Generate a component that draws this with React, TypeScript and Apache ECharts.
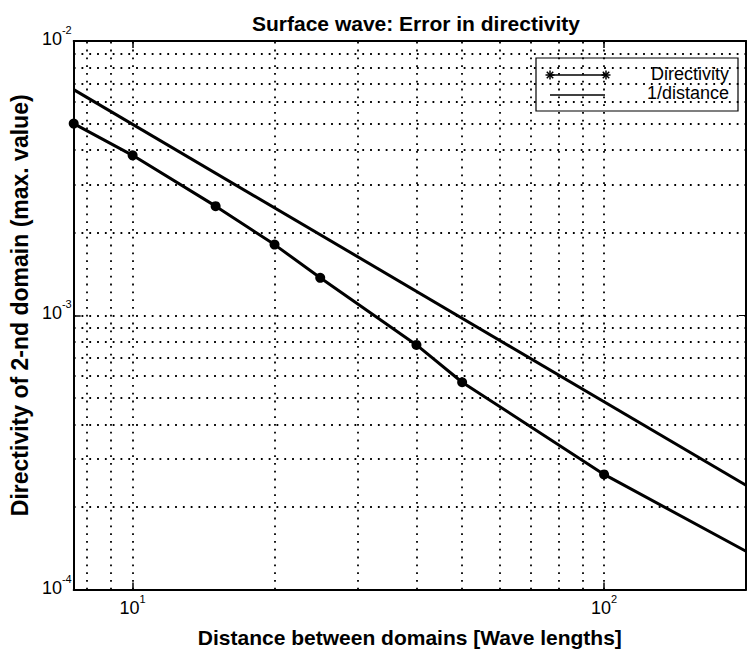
import React, { useEffect, useRef } from "react";
import * as echarts from "echarts";

const distances = [7.5, 10, 15, 20, 25, 40, 50, 100, 200];
const directivity = [5.0e-3, 3.83e-3, 2.5e-3, 1.81e-3, 1.37e-3, 7.8e-4, 5.7e-4, 2.63e-4, 1.38e-4];
const refDistances = [7.5, 200];
const inverseDistance = [6.65e-3, 2.4e-4];
const gridX = [8, 9, 10, 20, 30, 40, 50, 60, 70, 80, 90, 100];
const gridY = [2e-4, 3e-4, 4e-4, 5e-4, 6e-4, 7e-4, 8e-4, 9e-4, 1e-3, 2e-3, 3e-3, 4e-3, 5e-3, 6e-3, 7e-3, 8e-3, 9e-3];
const xMin = 7.5;
const xMax = 200;
const yMin = 1e-4;
const yMax = 1e-2;
const titleText = "Surface wave: Error in directivity";
const xName = "Distance between domains [Wave lengths]";
const yName = "Directivity of 2-nd domain (max. value)";
const legendNames = ["Directivity", "1/distance"];

const FONT = "Liberation Sans";

const powLabel = (v: number) => {
  const l = Math.log10(v);
  const e = Math.round(l);
  if (Math.abs(l - e) > 1e-3) return "";
  return `{base|10}{sup|${e}}`;
};

const richLabel = {
  base: { fontSize: 18, fontFamily: FONT, color: "#000", lineHeight: 20 },
  sup: { fontSize: 11, fontFamily: FONT, color: "#000", lineHeight: 11, padding: [0, 0, 18, 0] },
};

const axisLineStyle = { color: "#000", width: 2 };

function star(cx: number, cy: number) {
  const r = 4.5;
  const d = r * 0.72;
  const st = { stroke: "#000", lineWidth: 1.5 };
  return {
    type: "group",
    children: [
      { type: "line", shape: { x1: cx - r, y1: cy, x2: cx + r, y2: cy }, style: st },
      { type: "line", shape: { x1: cx, y1: cy - r, x2: cx, y2: cy + r }, style: st },
      { type: "line", shape: { x1: cx - d, y1: cy - d, x2: cx + d, y2: cy + d }, style: st },
      { type: "line", shape: { x1: cx - d, y1: cy + d, x2: cx + d, y2: cy - d }, style: st },
    ],
  };
}

export default function App() {
  const ref = useRef<HTMLDivElement>(null);
  useEffect(() => {
    if (!ref.current) return;
    const chart = echarts.init(ref.current, undefined, { renderer: "svg" });
    const dirData: any[] = distances.map((d, i) =>
      i === distances.length - 1 ? { value: [d, directivity[i]], symbol: "none" } : [d, directivity[i]]
    );
    const invData = refDistances.map((d, i) => [d, inverseDistance[i]]);
    const labelCommon = {
      show: true,
      formatter: powLabel,
      rich: richLabel,
      color: "#000",
      fontSize: 18,
      fontFamily: FONT,
    };
    const option: any = {
      animation: false,
      backgroundColor: "#fff",
      textStyle: { fontFamily: FONT },
      title: {
        text: titleText,
        left: 411,
        top: 8,
        textAlign: "center",
        textStyle: { fontFamily: FONT, fontSize: 21, fontWeight: "bold", color: "#000" },
      },
      grid: { left: 70, right: -1, top: 41, bottom: 60, containLabel: false },
      xAxis: [
        {
          type: "log",
          logBase: 10,
          min: xMin,
          max: xMax,
          position: "bottom",
          name: xName,
          nameLocation: "middle",
          nameGap: 36,
          nameTextStyle: { fontFamily: FONT, fontSize: 21, fontWeight: "bold", color: "#000" },
          axisLine: { show: true, lineStyle: axisLineStyle },
          axisTick: { show: true, inside: true, length: 7, lineStyle: { color: "#000", width: 1.5 } },
          axisLabel: { ...labelCommon, margin: 8 },
          splitLine: { show: false },
        },
        {
          type: "log",
          logBase: 10,
          min: xMin,
          max: xMax,
          position: "top",
          axisLine: { show: true, lineStyle: axisLineStyle },
          axisTick: { show: true, inside: true, length: 7, lineStyle: { color: "#000", width: 1.5 } },
          axisLabel: { show: false },
          splitLine: { show: false },
        },
      ],
      yAxis: [
        {
          type: "log",
          logBase: 10,
          min: yMin,
          max: yMax,
          position: "left",
          name: yName,
          nameLocation: "middle",
          nameGap: 35,
          nameTextStyle: { fontFamily: FONT, fontSize: 23, fontWeight: "bold", color: "#000", padding: [0, 0, 0, 20] },
          axisLine: { show: true, lineStyle: axisLineStyle },
          axisTick: { show: true, inside: true, length: 7, lineStyle: { color: "#000", width: 1.5 } },
          axisLabel: { ...labelCommon, margin: 2, padding: [0, 0, 4, 0] },
          splitLine: { show: false },
        },
        {
          type: "log",
          logBase: 10,
          min: yMin,
          max: yMax,
          position: "right",
          axisLine: { show: true, lineStyle: axisLineStyle },
          axisTick: { show: true, inside: true, length: 7 },
          axisLabel: { show: false },
          splitLine: { show: false },
        },
      ],
      series: [
        {
          name: legendNames[0],
          type: "line",
          xAxisIndex: 0,
          yAxisIndex: 0,
          data: dirData,
          symbol: "circle",
          symbolSize: 10,
          showAllSymbol: true,
          itemStyle: { color: "#000" },
          lineStyle: { color: "#000", width: 3 },
          z: 3,
        },
        {
          name: legendNames[1],
          type: "line",
          xAxisIndex: 0,
          yAxisIndex: 0,
          data: invData,
          symbol: "none",
          lineStyle: { color: "#000", width: 3 },
          z: 3,
          markLine: {
            silent: true,
            z: 1,
            symbol: ["none", "none"],
            label: { show: false },
            emphasis: { disabled: true },
            lineStyle: { color: "#000", width: 1.8, type: [1.8, 6], opacity: 1 },
            data: [
              ...gridX.map((v) => [{ coord: [v, yMin] }, { coord: [v, yMax] }]),
              ...gridY.map((v) => [{ coord: [xMin, v] }, { coord: [xMax, v] }]),
            ],
          },
        },
      ],
      graphic: [
        {
          type: "group",
          z: 100,
          children: [
            {
              type: "rect",
              shape: { x: 536, y: 58, width: 202, height: 53 },
              style: { fill: "#fff", stroke: "#000", lineWidth: 1.2 },
            },
            { type: "line", shape: { x1: 550, y1: 75, x2: 606, y2: 75 }, style: { stroke: "#000", lineWidth: 1.5 } },
            star(550, 75),
            star(606, 75),
            { type: "line", shape: { x1: 550, y1: 95, x2: 605, y2: 95 }, style: { stroke: "#000", lineWidth: 1.5 } },
            {
              type: "text",
              x: 729,
              y: 74,
              style: { text: legendNames[0], fontFamily: FONT, fontSize: 18, fill: "#000", align: "right", verticalAlign: "middle" },
            },
            {
              type: "text",
              x: 729,
              y: 93,
              style: { text: legendNames[1], fontFamily: FONT, fontSize: 18, fill: "#000", align: "right", verticalAlign: "middle" },
            },
          ],
        },
      ],
    };
    chart.setOption(option);
    return () => chart.dispose();
  }, []);
  return <div ref={ref} style={{ position: "absolute", left: 0, top: 0, width: 749, height: 653 }} />;
}
